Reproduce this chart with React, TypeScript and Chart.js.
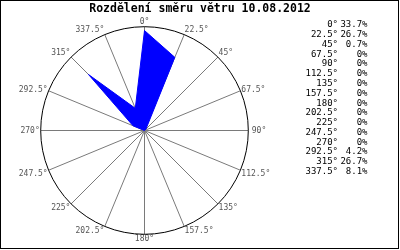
import React, { useEffect, useRef } from "react";
import { Chart, registerables } from "chart.js";

Chart.register(...registerables);

const TITLE = "Rozdělení směru větru 10.08.2012";
const directions = ["0°", "22.5°", "45°", "67.5°", "90°", "112.5°", "135°", "157.5°", "180°", "202.5°", "225°", "247.5°", "270°", "292.5°", "315°", "337.5°"];
const shares = [33.7, 26.7, 0.7, 0, 0, 0, 0, 0, 0, 0, 0, 0, 0, 4.2, 26.7, 8.1];
const shareLabels = ["33.7%", "26.7%", "0.7%", "0%", "0%", "0%", "0%", "0%", "0%", "0%", "0%", "0%", "0%", "4.2%", "26.7%", "8.1%"];
const scaleMax = 35;

const MONO = "'DejaVu Sans Mono', 'Liberation Mono', monospace";

const shiftPlugin = {
  id: "shift",
  beforeDraw(chart: any) {
    chart.ctx.save();
    chart.ctx.translate(0.5, 0.5);
  },
  beforeDatasetsDraw(chart: any) {
    // outer ring of the radial scale
    const s = chart.scales.r;
    const ctx = chart.ctx;
    ctx.save();
    ctx.strokeStyle = "#000";
    ctx.lineWidth = 1;
    ctx.beginPath();
    ctx.arc(s.xCenter, s.yCenter, s.getDistanceFromCenterForValue(scaleMax), 0, Math.PI * 2);
    ctx.stroke();
    ctx.restore();
  },
  afterDraw(chart: any) {
    const ctx = chart.ctx;
    ctx.restore();
    ctx.save();
    // title
    ctx.fillStyle = "#000";
    ctx.font = `bold 11.5px ${MONO}`;
    ctx.textAlign = "center";
    ctx.textBaseline = "middle";
    ctx.fillText(TITLE, 200, 9.5);
    // side list
    ctx.font = `9px ${MONO}`;
    ctx.textAlign = "right";
    for (let i = 0; i < directions.length; i++) {
      const y = 25 + i * 9.78;
      ctx.fillText(directions[i], 338, y);
      ctx.fillText(shareLabels[i], 367.5, y);
    }
    // frame
    ctx.strokeStyle = "#000";
    ctx.lineWidth = 1;
    ctx.strokeRect(0.5, 0.5, 398, 248);
    ctx.restore();
  },
};

export default function App() {
  const ref = useRef<HTMLCanvasElement | null>(null);
  useEffect(() => {
    document.body.style.margin = "0";
    const chart = new Chart(ref.current as HTMLCanvasElement, {
      type: "radar",
      data: {
        labels: directions,
        datasets: [
          {
            data: shares,
            fill: true,
            backgroundColor: "#0000ff",
            borderColor: "#0000ff",
            borderWidth: 1,
            pointRadius: 0,
            tension: 0,
          },
        ],
      },
      options: {
        animation: false,
        responsive: false,
        devicePixelRatio: 1,
        layout: { padding: { left: 0, right: 111, top: 18, bottom: 8 } },
        plugins: {
          legend: { display: false },
          title: { display: false },
          tooltip: { enabled: false },
        },
        scales: {
          r: {
            min: 0,
            max: scaleMax,
            ticks: { display: false, stepSize: scaleMax },
            grid: { display: false },
            angleLines: { color: "#7a7a7a", lineWidth: 1 },
            pointLabels: {
              color: "#555",
              padding: (c: any) => (c.index === 4 ? 3.5 : 1),
              font: (c: any) => ({
                family: MONO,
                size: 8,
                lineHeight: c.index === 3 || c.index === 13 ? 0.1 : 0.9,
              }),
            },
          },
        },
      },
      plugins: [shiftPlugin],
    });
    return () => chart.destroy();
  }, []);
  return (
    <div style={{ position: "absolute", left: 0, top: 0, width: 400, height: 250, background: "#fff" }}>
      <canvas ref={ref} width={400} height={250} />
    </div>
  );
}
